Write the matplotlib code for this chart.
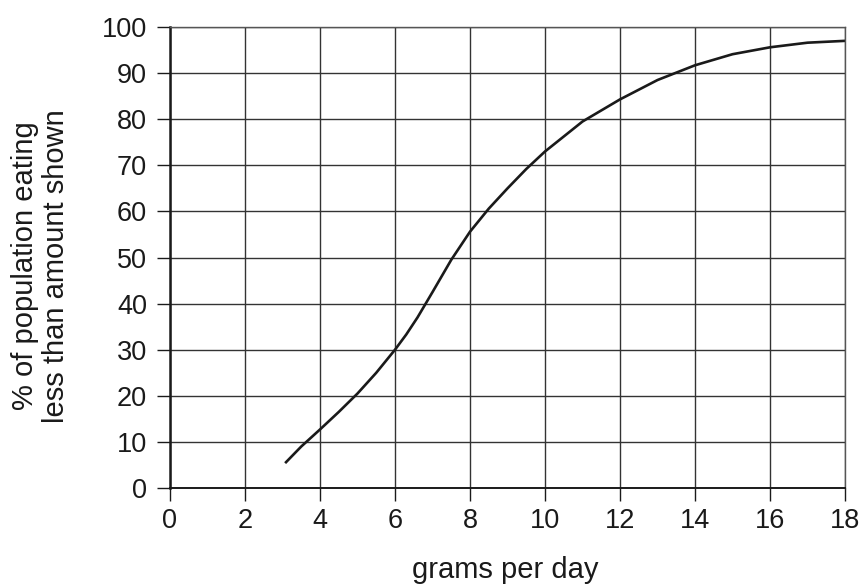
import matplotlib
matplotlib.use("Agg")
import matplotlib.pyplot as plt

plt.rcParams['font.family'] = ['Liberation Sans', 'DejaVu Sans']

# values
grams = [3.07, 3.5, 4, 4.5, 5, 5.5, 6, 6.3, 6.6, 7, 7.5, 8, 8.5, 9, 9.5, 10, 11, 12, 13, 14, 15, 16, 17, 18]
percent = [5.4, 9.0, 12.7, 16.5, 20.5, 25.0, 30, 33.3, 37.0, 42.5, 49.5, 55.6, 60.6, 65, 69.2, 73, 79.5, 84.3, 88.5, 91.7, 94.1, 95.6, 96.6, 97.0]

x_ticks = list(range(0, 19, 2))
y_ticks = list(range(0, 101, 10))

fig = plt.figure(figsize=(8.62, 5.86), dpi=100)
ax = fig.add_axes([0.1972, 0.1672, 0.7831, 0.7867])

ax.set_xlim(0, 18)
ax.set_ylim(0, 100)
ax.set_xticks(x_ticks)
ax.set_yticks(y_ticks)
ax.grid(True, color='#333333', linewidth=1.0)
ax.set_axisbelow(True)

ax.plot(grams, percent, color='#1a1a1a', linewidth=1.9, solid_capstyle='butt',
        solid_joinstyle='round')

for side in ['top', 'right']:
    ax.spines[side].set_color('#555555')
    ax.spines[side].set_linewidth(1.0)
ax.spines['left'].set_linewidth(1.8)
ax.spines['bottom'].set_linewidth(1.4)
ax.spines['left'].set_color('#1a1a1a')
ax.spines['bottom'].set_color('#1a1a1a')

ax.tick_params(axis='both', direction='out', length=9.4, width=1.0, color='#1a1a1a',
               labelsize=19.5, labelcolor='#1a1a1a')
ax.tick_params(axis='x', pad=5)
ax.tick_params(axis='y', pad=7)

fig.text(505 / 862, 1 - 578 / 586, 'grams per day', fontsize=21, color='#1a1a1a',
         ha='center', va='baseline')
fig.text(40.5 / 862, 1 - 266 / 586, '% of population eating\nless than amount shown',
         fontsize=21, color='#1a1a1a', ha='center', va='center', rotation=90,
         linespacing=1.15)

fig.savefig('out.png', dpi=100)
